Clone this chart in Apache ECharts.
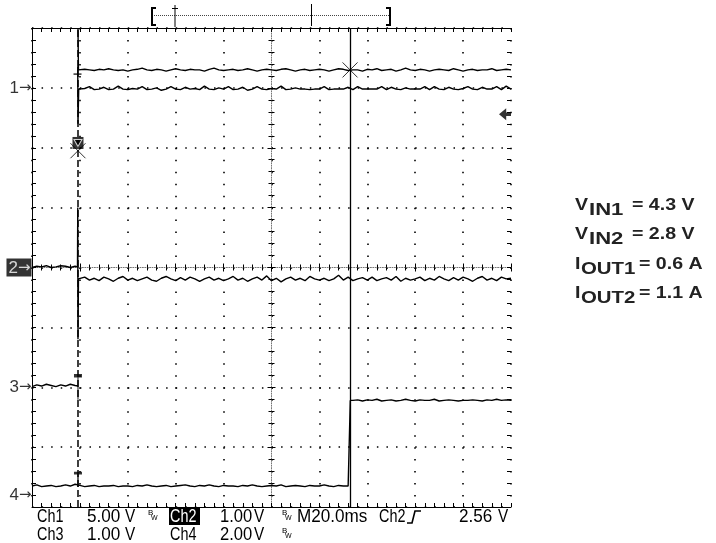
<!DOCTYPE html>
<html><head><meta charset="utf-8">
<script src="https://cdn.jsdelivr.net/npm/echarts@6/dist/echarts.min.js"></script>
<style>html,body{margin:0;padding:0;background:#fff}#c{width:716px;height:543px}</style>
</head><body><div id="c"></div>
<script>
// ---- scope screen: 10 x 20 ms horizontally, 8 divisions vertically ----
const SAMPLE_MS = 2;
const timeRange = [0, 200];
const divRange = [-4, 4];
const cursorTimes = [19.2, 132.8];
const channelNames = ['1', '2', '3', '4'];
const channelOffsets = [3.0, 0.0, -2.0, -3.8];
const triggerLevel = 2.56;

// trace values in divisions
const ch1UpperEdge = [[19.2, 4.0], [19.4, 3.30]];
const ch1Upper = [
3.30,3.31,3.30,3.29,3.31,3.30,3.32,3.30,3.29,3.30,
3.28,3.30,3.31,3.33,3.30,3.29,3.31,3.30,3.28,3.30,
3.32,3.30,3.29,3.31,3.30,3.30,3.28,3.31,3.33,3.30,
3.29,3.30,3.31,3.29,3.30,3.32,3.30,3.28,3.30,3.31,
3.30,3.29,3.31,3.32,3.30,3.28,3.30,3.31,3.29,3.30,
3.31,3.30,3.28,3.30,3.32,3.31,3.29,3.30,3.30,3.28,
3.31,3.30,3.32,3.29,3.30,3.31,3.28,3.30,3.33,3.30,
3.29,3.31,3.30,3.28,3.30,3.31,3.30,3.29,3.32,3.30,
3.28,3.30,3.31,3.29,3.30,3.30,3.32,3.29,3.30,3.31,3.30];
const ch1LowerEdge = [[19.1, 3.35], [19.2, 2.40], [19.5, 2.98]];
const ch1Lower = [
2.98,2.99,3.02,2.97,2.98,3.01,2.97,2.98,3.03,2.98,
2.97,2.99,2.98,3.02,2.97,2.98,3.00,2.96,2.98,3.02,
2.98,2.97,3.01,2.98,2.99,2.97,3.03,2.98,2.97,3.00,
2.98,3.02,2.97,2.98,3.01,2.96,2.98,3.02,2.98,2.97,
2.99,2.98,3.03,2.97,2.98,3.00,2.98,2.98,2.97,2.98,
2.98,3.02,2.97,2.98,2.98,2.98,3.01,2.97,3.02,2.98,
2.98,2.98,2.98,3.02,2.97,3.01,2.98,2.97,3.00,2.98,
2.98,2.98,3.02,2.97,3.02,2.98,2.97,3.01,2.98,2.97,
2.99,3.02,2.98,2.97,3.01,2.98,2.98,3.02,2.97,3.03,2.98];
const ch2Before = [0.00,0.02,0.01,0.03,0.00,0.01,0.03,0.02,0.00,0.02];
const ch2Edge = [[19.0, 0.01], [19.1, 1.0], [19.2, -1.2], [19.4, -0.19]];
const ch2After = [
-0.19,-0.16,-0.21,-0.18,-0.22,-0.16,-0.19,-0.23,-0.18,-0.15,
-0.21,-0.18,-0.22,-0.19,-0.16,-0.21,-0.23,-0.18,-0.15,-0.19,
-0.22,-0.17,-0.21,-0.16,-0.19,-0.23,-0.19,-0.16,-0.21,-0.18,
-0.22,-0.19,-0.15,-0.21,-0.18,-0.23,-0.19,-0.16,-0.21,-0.14,
-0.22,-0.18,-0.24,-0.19,-0.16,-0.21,-0.18,-0.22,-0.15,-0.19,
-0.21,-0.18,-0.22,-0.19,-0.13,-0.21,-0.16,-0.22,-0.19,-0.17,
-0.21,-0.16,-0.22,-0.19,-0.17,-0.21,-0.15,-0.23,-0.18,-0.21,
-0.19,-0.16,-0.22,-0.18,-0.21,-0.15,-0.19,-0.22,-0.17,-0.21,
-0.16,-0.19,-0.23,-0.18,-0.15,-0.21,-0.18,-0.22,-0.16,-0.19,-0.18];
const ch3Before = [-1.99,-1.96,-1.98,-1.95,-1.97,-1.99,-1.96,-1.98,-1.95,-1.97];
const ch3End = [[19.2, -1.98]];
const ch4Before = [
-3.65,-3.63,-3.66,-3.65,-3.64,-3.66,-3.65,-3.63,-3.65,-3.62,
-3.64,-3.66,-3.65,-3.64,-3.66,-3.65,-3.65,-3.64,-3.66,-3.65,
-3.65,-3.66,-3.64,-3.65,-3.63,-3.65,-3.66,-3.65,-3.64,-3.66,
-3.65,-3.64,-3.63,-3.65,-3.66,-3.64,-3.65,-3.63,-3.65,-3.66,
-3.64,-3.65,-3.65,-3.66,-3.64,-3.65,-3.63,-3.65,-3.66,-3.65,
-3.64,-3.65,-3.63,-3.66,-3.65,-3.64,-3.65,-3.66,-3.64,-3.65,
-3.65,-3.63,-3.65,-3.66,-3.64,-3.65,-3.65];
const ch4Edge = [[132.8, -3.65], [132.9, -2.22]];
const ch4After = [
-2.22,-2.21,-2.23,-2.21,-2.22,-2.20,-2.23,-2.22,-2.21,-2.23,
-2.22,-2.20,-2.22,-2.23,-2.21,-2.22,-2.22,-2.20,-2.23,-2.22,
-2.21,-2.22,-2.23,-2.22,-2.22,-2.21,-2.22,-2.23,-2.21,-2.22,
-2.20,-2.22,-2.21,-2.22];

// cursor / marker readouts (time ms, divisions)
const cursorCrosses = [[132.8, 3.30], [19.2, 1.95]];
const cursorBox = [[19.2, 2.08]];
const ch3Tee = [[19.2, -2.01]];
const ch4Tee = [[19.2, -3.55]];
const ch1Tick = [[19.0, 3.23]];

// bottom readout text
const readoutRow1 = ['Ch1', '5.00', 'V', 'Ch2', '1.00', 'V', 'M20.0ms', 'Ch2', '2.56', 'V'];
const readoutRow2 = ['Ch3', '1.00', 'V', 'Ch4', '2.00', 'V'];
const conditions = [
  ['V', 'IN1', '= 4.3 V'],
  ['V', 'IN2', '= 2.8 V'],
  ['I', 'OUT1', '= 0.6 A'],
  ['I', 'OUT2', '= 1.1 A']
];

const sampled = (t0, arr) => arr.map((v, i) => [t0 + i * SAMPLE_MS, v]);

const traceStyle = {color: '#000', width: 1.4};
function trace(data, extra) {
  return Object.assign({type: 'line', data, showSymbol: false, symbol: 'none',
    lineStyle: traceStyle, silent: true, z: 5, animation: false}, extra || {});
}

const chart = echarts.init(document.getElementById('c'), null, {renderer: 'canvas'});
const G = {left: 32, top: 28, width: 479, height: 479};
const hidden = {show: false};
const tickS = {color: '#000', width: 1};
function xAx(o) {
  return Object.assign({type: 'value', min: timeRange[0], max: timeRange[1], interval: 20,
    axisLabel: hidden, splitLine: hidden}, o);
}
function yAx(o) {
  return Object.assign({type: 'value', min: divRange[0], max: divRange[1], interval: 1,
    axisLabel: hidden, splitLine: hidden}, o);
}
const centerLine = {show: true, onZero: false, lineStyle: {color: '#777', width: 1, type: [1, 1.4]}};

const option = {
  backgroundColor: '#fff',
  animation: false,
  grid: G,
  xAxis: [
    xAx({position: 'bottom', axisLine: {show: true, onZero: false, lineStyle: {color: '#000', width: 1}},
      axisTick: {show: true, inside: true, length: 4, lineStyle: tickS},
      minorTick: {show: true, splitNumber: 5, length: 4, lineStyle: tickS},
      splitLine: {show: true, lineStyle: {color: '#000', width: 1.6, type: [1.5, 10.475]}}}),
    xAx({position: 'top', axisLine: {show: true, onZero: false, lineStyle: {color: '#000', width: 1}},
      axisTick: {show: true, inside: true, length: 4, lineStyle: tickS},
      minorTick: {show: true, splitNumber: 5, length: 4, lineStyle: tickS}}),
    xAx({position: 'bottom', offset: -239.5, axisLine: centerLine,
      axisTick: {show: true, inside: true, length: 4, lineStyle: tickS},
      minorTick: {show: true, splitNumber: 5, length: 3, lineStyle: tickS}}),
    xAx({position: 'bottom', offset: -239.5, axisLine: {show: false, onZero: false},
      axisTick: {show: true, inside: false, length: 4, lineStyle: tickS},
      minorTick: {show: true, splitNumber: 5, length: 3, lineStyle: tickS}})
  ],
  yAxis: [
    yAx({position: 'left', axisLine: {show: true, onZero: false, lineStyle: {color: '#000', width: 1}},
      axisTick: {show: true, inside: true, length: 4, lineStyle: tickS},
      minorTick: {show: true, splitNumber: 5, length: 4, lineStyle: tickS},
      splitLine: {show: true, lineStyle: {color: '#000', width: 1.6, type: [1.5, 8.08]}}}),
    yAx({position: 'right', axisLine: {show: false, onZero: false},
      axisTick: {show: true, inside: true, length: 4, lineStyle: tickS},
      minorTick: {show: true, splitNumber: 5, length: 4, lineStyle: tickS}}),
    yAx({position: 'left', offset: -239.5, axisLine: centerLine,
      axisTick: {show: true, inside: true, length: 4, lineStyle: tickS},
      minorTick: {show: true, splitNumber: 5, length: 3, lineStyle: tickS}}),
    yAx({position: 'left', offset: -239.5, axisLine: {show: false, onZero: false},
      axisTick: {show: true, inside: false, length: 4, lineStyle: tickS},
      minorTick: {show: true, splitNumber: 5, length: 3, lineStyle: tickS}})
  ],
  series: [
    trace(ch1UpperEdge.concat(sampled(20, ch1Upper))),
    trace(ch1LowerEdge.concat(sampled(20, ch1Lower))),
    trace(sampled(0, ch2Before).concat(ch2Edge, sampled(20, ch2After))),
    trace(sampled(0, ch3Before).concat(ch3End)),
    trace(sampled(0, ch4Before).concat(ch4Edge, sampled(134, ch4After)), {
      markLine: {silent: true, symbol: ['none', 'none'], label: {show: false},
        lineStyle: {color: '#000'},
        data: [
          {xAxis: cursorTimes[0], lineStyle: {type: [7, 3], width: 1.5, color: '#000'}},
          {xAxis: cursorTimes[1], lineStyle: {type: 'solid', width: 1.3, color: '#000'}}
        ]}
    }),
    {type: 'scatter', data: cursorCrosses, symbol: 'path://M0,0L10,10M10,0L0,10', symbolSize: 15,
      itemStyle: {color: 'transparent', borderColor: '#000', borderWidth: 1}, z: 8, silent: true},
    {type: 'scatter', data: cursorBox, symbol: 'rect', symbolSize: [11, 12],
      itemStyle: {color: '#000'}, z: 9, silent: true},
    {type: 'scatter', data: cursorBox, symbol: 'triangle', symbolRotate: 180, symbolSize: [8, 7],
      itemStyle: {color: '#000', borderColor: '#fff', borderWidth: 1}, z: 10, silent: true},
    {type: 'scatter', data: ch3Tee, symbol: 'path://M0,0L8,0M4,0L4,24', symbolSize: [8, 24],
      itemStyle: {color: 'transparent', borderColor: '#000', borderWidth: 2}, z: 8, silent: true},
    {type: 'scatter', data: ch4Tee, symbol: 'path://M0,0L8,0M4,0L4,14', symbolSize: [8, 14],
      itemStyle: {color: 'transparent', borderColor: '#000', borderWidth: 2}, z: 8, silent: true},
    {type: 'scatter', data: ch1Tick, symbol: 'rect', symbolSize: [8, 1.5],
      itemStyle: {color: '#000'}, z: 8, silent: true},
    // trigger level arrow on right edge
    {type: 'scatter', data: [[timeRange[1], triggerLevel]],
      symbol: 'path://M0,5L6,0L6,3.5L10,3.5L10,6.5L6,6.5L6,10Z', symbolSize: [12, 12], symbolOffset: [-6, 0],
      itemStyle: {color: '#000'}, z: 8, silent: true},
    // channel ground markers
    {type: 'scatter', symbolSize: 1, itemStyle: {color: 'transparent'}, silent: true, z: 8,
      data: channelNames.map((n, i) => ({name: n, value: [timeRange[0], channelOffsets[i]]})).filter(d => d.name !== '2'),
      label: {show: true, position: 'left', distance: 0,
        formatter: p => `{n|${p.name}}{a|→}`,
        rich: {n: {fontFamily: 'Liberation Sans', fontSize: 17, color: '#000'},
               a: {fontFamily: 'DejaVu Sans', fontSize: 15, color: '#000'}}}},
    {type: 'scatter', symbolSize: 1, itemStyle: {color: 'transparent'}, silent: true, z: 8,
      data: channelNames.map((n, i) => ({name: n, value: [timeRange[0], channelOffsets[i]]})).filter(d => d.name === '2'),
      label: {show: true, position: 'left', distance: 0, backgroundColor: '#000', padding: [1, 1, 0, 2],
        formatter: p => `{n|${p.name}}{a|→}`,
        rich: {n: {fontFamily: 'Liberation Sans', fontSize: 17, color: '#fff'},
               a: {fontFamily: 'DejaVu Sans', fontSize: 15, color: '#fff'}}}}
  ],
  graphic: []
};

// record position bar at top
const g = option.graphic;
g.push({type: 'polyline', shape: {points: [[156, 8], [152, 8], [152, 25], [156, 25]]}, style: {stroke: '#000', lineWidth: 2, fill: null}});
g.push({type: 'line', shape: {x1: 154, y1: 15.5, x2: 389, y2: 15.5}, style: {stroke: '#444', lineWidth: 1, lineDash: [1, 1]}});
g.push({type: 'line', shape: {x1: 175, y1: 5, x2: 175, y2: 27}, style: {stroke: '#000', lineWidth: 1}});
g.push({type: 'line', shape: {x1: 172, y1: 8.5, x2: 178, y2: 8.5}, style: {stroke: '#000', lineWidth: 1}});
g.push({type: 'line', shape: {x1: 311.5, y1: 4, x2: 311.5, y2: 26}, style: {stroke: '#000', lineWidth: 1}});
g.push({type: 'polyline', shape: {points: [[386, 8], [390, 8], [390, 25], [386, 25]]}, style: {stroke: '#000', lineWidth: 2, fill: null}});

// bottom readout
function rtxt(x, y, s, sx, fill) {
  return {type: 'text', x, y, scaleX: sx, z: 20,
    style: {text: s, fontFamily: 'Liberation Sans', fontSize: 18, fill: fill || '#000', align: 'left', verticalAlign: 'middle'}};
}
const row1X = [37, 87, 125, 170, 220, 254, 297, 379, 459, 498];
const row1S = [0.8, 0.95, 0.85, 0.8, 0.92, 0.85, 0.95, 0.8, 0.95, 0.85];
g.push({type: 'rect', shape: {x: 169, y: 508, width: 31, height: 17}, style: {fill: '#000'}, z: 19});
readoutRow1.forEach((s, i) => g.push(rtxt(row1X[i], 517, s, row1S[i], i === 3 ? '#fff' : '#000')));
const row2X = [37, 87, 125, 170, 220, 254];
const row2S = [0.8, 0.95, 0.85, 0.8, 0.92, 0.85];
readoutRow2.forEach((s, i) => g.push(rtxt(row2X[i], 535, s, row2S[i])));
[[148, 516], [282, 516], [282, 534]].forEach(([x, y]) => {
  g.push({type: 'text', x, y: y - 3, style: {text: 'B', fontFamily: 'Liberation Sans', fontSize: 8, fill: '#000', align: 'left', verticalAlign: 'middle'}});
  g.push({type: 'text', x: x + 3, y: y + 2, style: {text: 'W', fontFamily: 'Liberation Sans', fontSize: 7, fill: '#000', align: 'left', verticalAlign: 'middle'}});
});
g.push({type: 'polyline', shape: {points: [[407, 523], [412, 523], [415, 511], [421, 511]]}, style: {stroke: '#000', lineWidth: 1.6, fill: null}});

// operating conditions text
const condY = [205, 234.5, 264, 293.5];
conditions.forEach((c, i) => {
  const isV = c[0] === 'V';
  const st = (t) => ({text: t, fontFamily: 'Liberation Sans', fontWeight: 'bold', fontSize: 17, fill: '#222', align: 'left', verticalAlign: 'middle'});
  g.push({type: 'text', x: 575, y: condY[i], scaleX: 1.15, style: st(c[0])});
  g.push({type: 'text', x: isV ? 589 : 581, y: condY[i] + 5, scaleX: isV ? 1.3 : 1.2, style: st(c[1])});
  g.push({type: 'text', x: isV ? 632 : 639, y: condY[i], scaleX: 1.15, style: st(c[2])});
});

chart.setOption(option);
</script>
</body></html>
